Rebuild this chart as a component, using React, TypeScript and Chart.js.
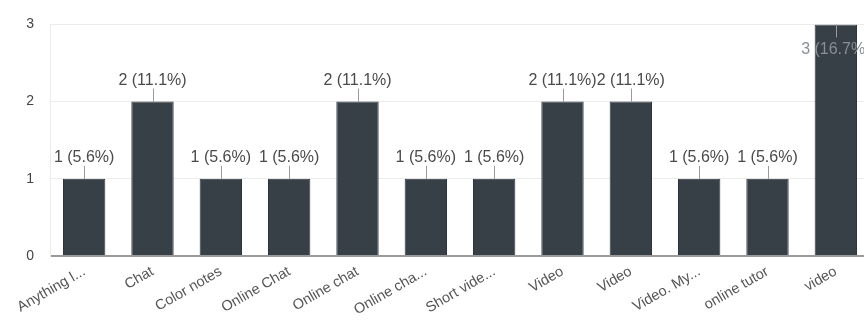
import React, { useEffect, useRef } from "react";
import { Chart, registerables } from "chart.js";

Chart.register(...registerables);

const categories = [
  "Anything l...",
  "Chat",
  "Color notes",
  "Online Chat",
  "Online chat",
  "Online cha...",
  "Short vide...",
  "Video",
  "Video",
  "Video. My...",
  "online tutor",
  "video",
];
const counts = [1, 2, 1, 1, 2, 1, 1, 2, 2, 1, 1, 3];
const yTicks = [0, 1, 2, 3];

const total = counts.reduce((a, b) => a + b, 0);

const labelPlugin = {
  id: "barLabels",
  afterDatasetsDraw(chart: any) {
    const ctx = chart.ctx;
    const meta = chart.getDatasetMeta(0);
    ctx.save();
    ctx.font = "16px 'Liberation Sans', Arial, sans-serif";
    ctx.textAlign = "center";
    ctx.textBaseline = "middle";
    meta.data.forEach((bar: any, i: number) => {
      const v = counts[i];
      const text = `${v} (${((v / total) * 100).toFixed(1)}%)`;
      const x = bar.x;
      const top = bar.y;
      let textY: number, l1: number, l2: number;
      if (top - 30 >= 0) {
        textY = top - 21;
        l1 = top - 13;
        l2 = top;
      } else {
        textY = top + 25;
        l1 = top;
        l2 = top + 13;
      }
      ctx.strokeStyle = "#9a9a9a";
      ctx.lineWidth = 1;
      ctx.beginPath();
      ctx.moveTo(Math.round(x) + 0.5, l1);
      ctx.lineTo(Math.round(x) + 0.5, l2);
      ctx.stroke();
      ctx.fillStyle = top - 30 >= 0 ? "#4a4a4a" : "#8a8f95";
      ctx.fillText(text, x, textY);
    });
    ctx.restore();
  },
};

export default function App() {
  const ref = useRef<HTMLCanvasElement | null>(null);
  useEffect(() => {
    if (!ref.current) return;
    const chart = new Chart(ref.current, {
      type: "bar",
      data: {
        labels: categories,
        datasets: [
          {
            data: counts,
            backgroundColor: "#373f47",
            borderColor: "#2e353c",
            borderWidth: 1,
            categoryPercentage: 0.62,
            barPercentage: 1,
          },
        ],
      },
      options: {
        responsive: false,
        animation: false,
        devicePixelRatio: 1,
        layout: { padding: { top: 22, right: 2, left: 0, bottom: 0 } },
        plugins: {
          legend: { display: false },
          tooltip: { enabled: false },
        },
        scales: {
          x: {
            grid: { display: false, drawTicks: false },
            border: { display: false },
            ticks: {
              autoSkip: false,
              minRotation: 30,
              maxRotation: 30,
              padding: 7,
              color: "#555",
              font: { size: 14.5, family: "'Liberation Sans', Arial, sans-serif" },
            },
            afterFit(axis: any) {
              axis.height = 65;
            },
          },
          y: {
            min: 0,
            max: 3,
            afterBuildTicks(axis: any) {
              axis.ticks = yTicks.map((v) => ({ value: v }));
            },
            grid: {
              drawTicks: false,
              color: (c: any) => (c.tick && c.tick.value === 0 ? "#9a9a9a" : "#ececec"),
              lineWidth: (c: any) => (c.tick && c.tick.value === 0 ? 2 : 1),
            },
            border: { display: true, color: "#ececec" },
            ticks: {
              padding: 16,
              color: "#444",
              font: { size: 14, family: "'Liberation Sans', Arial, sans-serif" },
            },
            afterFit(axis: any) {
              axis.width = 50;
            },
          },
        },
      },
      plugins: [labelPlugin],
    });
    return () => chart.destroy();
  }, []);
  return (
    <div
      style={{
        position: "fixed",
        left: 0,
        top: 0,
        width: 864,
        height: 321,
        overflow: "hidden",
        background: "#fff",
      }}
    >
      <canvas ref={ref} width={872} height={321} style={{ display: "block" }} />
    </div>
  );
}
